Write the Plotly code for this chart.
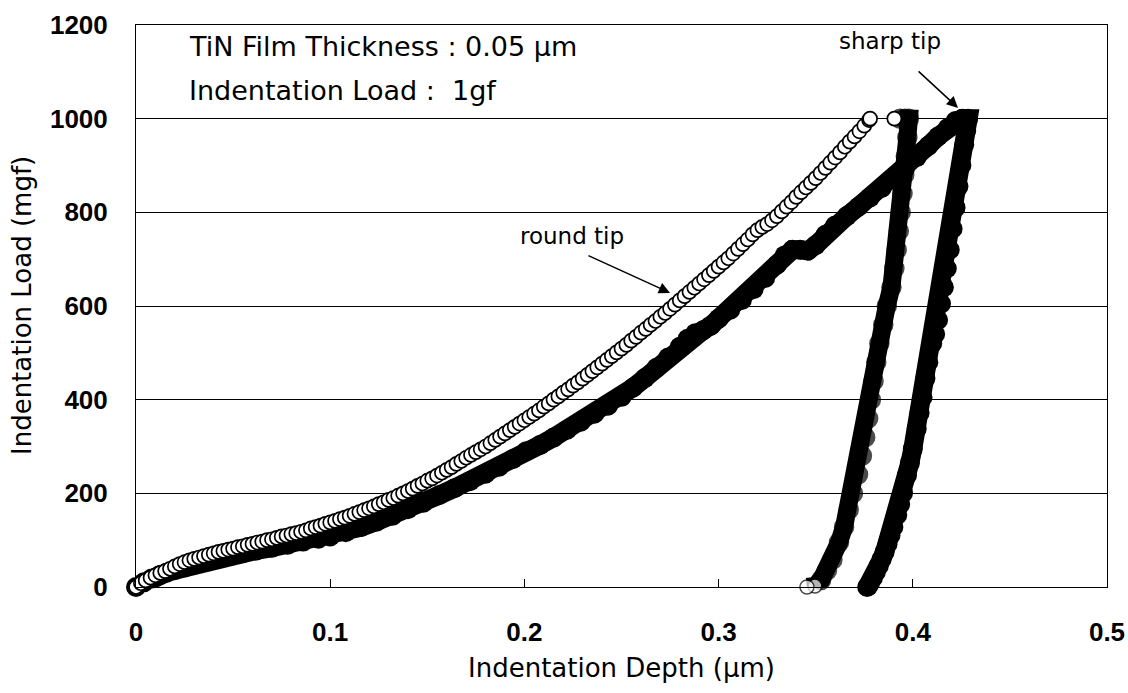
import plotly.graph_objects as go

# ---- round tip: loading branch (open circles) ----
round_load_depth = [
    0.0000, 0.0025, 0.0050, 0.0075, 0.0100, 0.0125, 0.0150, 0.0175, 0.0200, 0.0225,
    0.0250, 0.0275, 0.0300, 0.0325, 0.0350, 0.0375, 0.0400, 0.0425, 0.0450, 0.0475,
    0.0500, 0.0525, 0.0550, 0.0575, 0.0600, 0.0625, 0.0650, 0.0675, 0.0700, 0.0725,
    0.0750, 0.0775, 0.0800, 0.0825, 0.0850, 0.0875, 0.0900, 0.0925, 0.0950, 0.0975,
    0.1000, 0.1025, 0.1050, 0.1075, 0.1100, 0.1125, 0.1150, 0.1175, 0.1200, 0.1225,
    0.1250, 0.1275, 0.1300, 0.1325, 0.1350, 0.1375, 0.1400, 0.1425, 0.1450, 0.1475,
    0.1500, 0.1525, 0.1550, 0.1575, 0.1600, 0.1625, 0.1650, 0.1675, 0.1700, 0.1725,
    0.1750, 0.1775, 0.1800, 0.1825, 0.1850, 0.1875, 0.1900, 0.1925, 0.1950, 0.1975,
    0.2000, 0.2025, 0.2050, 0.2075, 0.2100, 0.2125, 0.2150, 0.2175, 0.2200, 0.2225,
    0.2250, 0.2275, 0.2300, 0.2325, 0.2350, 0.2375, 0.2400, 0.2425, 0.2450, 0.2475,
    0.2500, 0.2525, 0.2550, 0.2575, 0.2600, 0.2625, 0.2650, 0.2675, 0.2700, 0.2725,
    0.2750, 0.2775, 0.2800, 0.2825, 0.2850, 0.2875, 0.2900, 0.2925, 0.2950, 0.2975,
    0.3000, 0.3025, 0.3050, 0.3075, 0.3100, 0.3125, 0.3150, 0.3175, 0.3200, 0.3225,
    0.3250, 0.3275, 0.3300, 0.3325, 0.3350, 0.3375, 0.3400, 0.3425, 0.3450, 0.3475,
    0.3500, 0.3525, 0.3550, 0.3575, 0.3600, 0.3625, 0.3650, 0.3675, 0.3700, 0.3725,
    0.3750, 0.3775, 0.3780, 0.3905,
]
round_load_force = [
    0, 8, 14, 20, 25, 30, 34, 39, 44, 49,
    53, 57, 60, 63, 66, 69, 72, 75, 77, 80,
    82, 85, 87, 90, 92, 95, 97, 100, 102, 105,
    108, 110, 113, 115, 118, 121, 125, 128, 131, 135,
    138, 141, 145, 148, 152, 156, 160, 164, 168, 172,
    177, 181, 186, 190, 195, 200, 205, 210, 216, 221,
    227, 232, 238, 244, 250, 256, 263, 269, 276, 282,
    288, 294, 300, 307, 314, 321, 328, 335, 342, 349,
    356, 363, 370, 377, 385, 392, 400, 407, 415, 422,
    430, 437, 445, 453, 461, 469, 477, 485, 493, 501,
    509, 517, 526, 534, 543, 551, 560, 568, 577, 585,
    594, 603, 612, 621, 630, 639, 648, 657, 666, 675,
    684, 693, 702, 712, 722, 732, 742, 753, 762, 769,
    775, 783, 792, 802, 812, 822, 833, 843, 853, 863,
    873, 884, 895, 906, 917, 928, 940, 951, 962, 973,
    985, 997, 1000, 1000,
]

# ---- round tip: hold and unloading branch ----
round_unload_depth = [
    0.3935, 0.3960, 0.3980, 0.3972, 0.3964, 0.3956, 0.3947, 0.3938, 0.3928, 0.3917,
    0.3905, 0.3890, 0.3866, 0.3848, 0.3828, 0.3812, 0.3798, 0.3784, 0.3770, 0.3755,
    0.3738, 0.3718, 0.3692, 0.3670, 0.3646, 0.3620, 0.3586, 0.3558, 0.3528, 0.3496,
    0.3455,
]
round_unload_force = [
    1000, 1000, 1000, 960, 920, 880, 840, 800, 760, 720,
    680, 640, 600, 560, 520, 480, 440, 400, 360, 320,
    280, 240, 200, 165, 128, 95, 58, 35, 15, 2,
    0,
]

# ---- sharp tip: full loading / unloading cycle (filled circles) ----
sharp_depth = [
    0.000, 0.004, 0.008, 0.012, 0.016, 0.020, 0.025, 0.030, 0.036, 0.042,
    0.048, 0.055, 0.062, 0.070, 0.078, 0.086, 0.094, 0.100, 0.108, 0.116,
    0.124, 0.132, 0.140, 0.148, 0.156, 0.164, 0.172, 0.180, 0.187, 0.194,
    0.201, 0.208, 0.215, 0.222, 0.229, 0.236, 0.243, 0.250, 0.256, 0.262,
    0.268, 0.274, 0.280, 0.284, 0.288, 0.292, 0.296, 0.300, 0.306, 0.312,
    0.318, 0.324, 0.330, 0.334, 0.338, 0.342, 0.346, 0.350, 0.355, 0.360,
    0.366, 0.372, 0.378, 0.384, 0.390, 0.396, 0.402, 0.408, 0.413, 0.418,
    0.422, 0.4255, 0.4285,
    0.4275, 0.4265, 0.4250, 0.4235, 0.4220, 0.4205, 0.4190, 0.4175, 0.4160, 0.4145,
    0.4130, 0.4115, 0.4100, 0.4080, 0.4065, 0.4050, 0.4035, 0.4020, 0.4000, 0.3985,
    0.3970, 0.3950, 0.3935, 0.3920, 0.3900, 0.3885, 0.3870, 0.3855, 0.3840, 0.3825,
    0.3810, 0.3795, 0.3780, 0.3770, 0.3765,
]
sharp_force = [
    0, 10, 18, 25, 31, 36, 42, 48, 54, 60,
    66, 72, 78, 84, 90, 97, 103, 108, 117, 128,
    140, 152, 166, 180, 196, 211, 226, 242, 257, 273,
    290, 303, 319, 336, 353, 370, 387, 406, 426, 446,
    468, 490, 513, 530, 542, 548, 558, 573, 592, 613,
    636, 660, 688, 708, 720, 720, 718, 730, 752, 772,
    792, 812, 832, 852, 872, 894, 918, 942, 962, 980,
    995, 1000, 1000,
    975, 945, 900, 855, 810, 765, 720, 680, 640, 605,
    570, 540, 520, 480, 445, 405, 372, 338, 295, 265,
    238, 201, 177, 154, 128, 110, 92, 75, 60, 45,
    32, 20, 9, 2, 0,
]

x_ticks = [0, 0.1, 0.2, 0.3, 0.4, 0.5]
x_tick_text = ["0", "0.1", "0.2", "0.3", "0.4", "0.5"]
y_ticks = [0, 200, 400, 600, 800, 1000, 1200]

TEXT_FONT = "DejaVu Sans"
TICK_FONT = "Liberation Sans"
OPEN_SIZE = 14
SOLID_SIZE = 20

fig = go.Figure()

fig.add_trace(go.Scatter(
    x=sharp_depth, y=sharp_force, mode="lines+markers",
    line=dict(color="black", width=SOLID_SIZE - 1),
    marker=dict(size=SOLID_SIZE, color="black", line=dict(width=0)),
    cliponaxis=False, showlegend=False, hoverinfo="skip",
))

n_unload = len(round_unload_depth)
unload_colors = ["black"] * (n_unload - 2) + ["white", "white"]
unload_sizes = [SOLID_SIZE - 1] * (n_unload - 2) + [OPEN_SIZE, OPEN_SIZE]
fig.add_trace(go.Scatter(
    x=round_unload_depth, y=round_unload_force, mode="lines+markers",
    line=dict(color="black", width=SOLID_SIZE - 2),
    marker=dict(size=unload_sizes, color=unload_colors,
                line=dict(color="black", width=1.5)),
    cliponaxis=False, showlegend=False, hoverinfo="skip",
))

fig.add_trace(go.Scatter(
    x=round_load_depth, y=round_load_force, mode="markers",
    marker=dict(size=OPEN_SIZE, color="white", line=dict(color="black", width=1.7)),
    cliponaxis=False, showlegend=False, hoverinfo="skip",
))

annotations = [
    dict(text="TiN Film Thickness : 0.05 µm", xref="paper", yref="paper",
         x=0.0525, y=0.9626, xanchor="left", yanchor="middle", showarrow=False,
         font=dict(family=TEXT_FONT, size=27, color="black")),
    dict(text="Indentation Load :  1gf", xref="paper", yref="paper",
         x=0.0525, y=0.8826, xanchor="left", yanchor="middle", showarrow=False,
         font=dict(family=TEXT_FONT, size=27, color="black")),
    dict(text="round tip", xref="x", yref="y", x=0.2245, y=750,
         xanchor="center", yanchor="middle", showarrow=False,
         font=dict(family=TEXT_FONT, size=23, color="black")),
    dict(text="", xref="x", yref="y", x=0.275, y=628, axref="x", ayref="y",
         ax=0.2322, ay=709, showarrow=True, arrowhead=2, arrowsize=1.5,
         arrowwidth=1.5, arrowcolor="black"),
    dict(text="sharp tip", xref="x", yref="y", x=0.3883, y=1166,
         xanchor="center", yanchor="middle", showarrow=False,
         font=dict(family=TEXT_FONT, size=23, color="black")),
    dict(text="", xref="x", yref="y", x=0.4233, y=1023, axref="x", ayref="y",
         ax=0.4022, ay=1104, showarrow=True, arrowhead=2, arrowsize=1.5,
         arrowwidth=1.5, arrowcolor="black"),
    dict(text="Indentation Depth (µm)", xref="paper", yref="paper",
         x=0.5, y=-0.1441, xanchor="center", yanchor="middle", showarrow=False,
         font=dict(family=TEXT_FONT, size=26, color="black")),
    dict(text="Indentation Load (mgf)", xref="paper", yref="paper",
         x=-0.1174, y=0.5, xanchor="center", yanchor="middle", showarrow=False,
         textangle=-90, font=dict(family=TEXT_FONT, size=26, color="black")),
]

fig.update_layout(
    width=1128, height=693,
    margin=dict(l=136, r=21, t=25, b=106, autoexpand=False),
    paper_bgcolor="white", plot_bgcolor="white",
    annotations=annotations,
    xaxis=dict(
        range=[0, 0.5], tickvals=x_ticks, ticktext=x_tick_text, automargin=False,
        showline=True, mirror=True, linecolor="black", linewidth=1,
        ticks="inside", ticklen=8, tickcolor="black", tickwidth=1,
        showgrid=False, zeroline=False, ticklabelstandoff=22,
        tickfont=dict(family=TICK_FONT, size=26, color="black", weight="bold"),
    ),
    yaxis=dict(
        range=[0, 1200], tickvals=y_ticks, automargin=False,
        showline=True, mirror=True, linecolor="black", linewidth=1,
        ticks="inside", ticklen=5, tickcolor="black", tickwidth=1,
        showgrid=True, gridcolor="black", gridwidth=1, zeroline=False,
        ticklabelstandoff=22,
        tickfont=dict(family=TICK_FONT, size=26, color="black", weight="bold"),
    ),
)

fig.write_html("out.html")
